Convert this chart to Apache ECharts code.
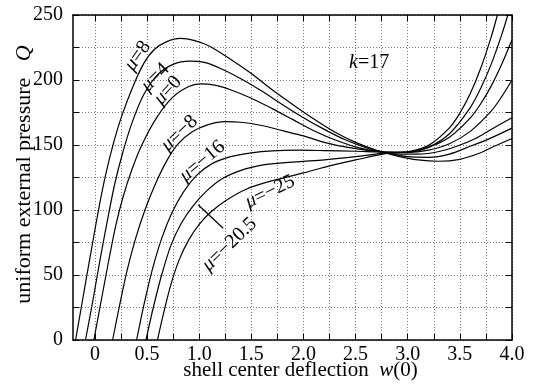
<!DOCTYPE html>
<html>
<head>
<meta charset="utf-8">
<script src="https://cdn.jsdelivr.net/npm/echarts@6/dist/echarts.min.js"></script>
<style>
html, body { margin: 0; padding: 0; background: #fff; }
#chart { width: 538px; height: 385px; }
</style>
</head>
<body>
<div id="chart"></div>
<script>
// tick positions
var xTicks = [0, 0.25, 0.5, 0.75, 1, 1.25, 1.5, 1.75, 2, 2.25, 2.5, 2.75, 3, 3.25, 3.5, 3.75, 4];
var xLabelVals = [0, 0.5, 1, 1.5, 2, 2.5, 3, 3.5, 4];

// curves [w(0), Q]
var mu8 = [[-0.185,0],[-0.12,30],[-0.05,62],[0.03,98],[0.1,126],[0.18,152],[0.26,173],[0.37,196],[0.47,213],[0.57,223.5],[0.69,229.5],[0.82,232],[0.95,230.5],[1.1,226],[1.3,216],[1.5,205],[1.7,192.5],[1.9,181],[2.1,170],[2.3,160],[2.5,152],[2.7,146],[2.9,141.5],[3.1,138.5],[3.3,137.5],[3.5,139],[3.7,144],[3.83,149],[4.0,155]];
var mu4 = [[-0.09,0],[-0.02,30],[0.05,62],[0.12,92],[0.19,120],[0.27,145],[0.36,168],[0.47,189],[0.6,204],[0.75,212],[0.91,214.5],[1.05,213.5],[1.2,209],[1.4,201],[1.6,191.5],[1.8,181],[2.0,171],[2.2,162],[2.4,154],[2.6,148],[2.8,144],[3.0,141],[3.2,140.5],[3.4,143],[3.6,149],[3.8,155.5],[4.0,163]];
var mu0 = [[-0.01,0],[0.06,30],[0.13,60],[0.2,88],[0.27,110],[0.35,130],[0.45,150],[0.6,172],[0.75,187],[0.9,195],[1.01,197],[1.15,196],[1.3,192.5],[1.5,186],[1.7,178],[1.9,169.5],[2.1,161],[2.3,154],[2.5,148.5],[2.7,145],[2.9,143],[3.1,143],[3.3,145],[3.47,149],[3.65,155],[3.8,162],[4.0,171]];
var muM8 = [[0.17,0],[0.24,28],[0.31,54],[0.39,78],[0.48,100],[0.58,120],[0.69,138],[0.8,151],[0.93,160],[1.08,165.5],[1.25,168],[1.4,167.5],[1.6,165],[1.8,161],[2.0,157],[2.2,152],[2.4,148.5],[2.6,146],[2.8,144.5],[3.0,144.3],[3.2,146.1],[3.4,151],[3.6,160.5],[3.8,176],[3.9,187],[4.0,200]];
var muM16 = [[0.4,0],[0.47,27],[0.55,54],[0.64,78],[0.74,98],[0.85,114],[0.98,127],[1.12,135.5],[1.3,141],[1.5,144],[1.7,145.5],[1.95,146],[2.2,145.7],[2.5,145.2],[2.8,144.6],[3.0,144.6],[3.2,148.2],[3.4,155.9],[3.6,170.8],[3.7,181.7],[3.8,195.3],[3.9,211.9],[4.0,231]];
var muM205 = [[0.49,0],[0.56,25],[0.64,50],[0.73,73],[0.83,90],[0.94,103],[1.07,114.5],[1.22,124],[1.4,130.5],[1.6,134.5],[1.8,136.3],[2.0,137.4],[2.2,138.5],[2.5,141],[2.8,144],[3.0,144.5],[3.2,148.4],[3.4,158.7],[3.6,178.8],[3.7,193.6],[3.8,212],[3.9,234.5],[3.96,250]];
var muM25 = [[0.6,0],[0.66,21],[0.73,43],[0.81,62],[0.9,77],[1.0,89],[1.12,99],[1.25,107],[1.45,116],[1.7,122.5],[2.0,128.5],[2.25,134],[2.5,138.5],[2.8,143.5],[3.0,144.7],[3.2,149.7],[3.4,163.2],[3.5,174.5],[3.6,189.6],[3.7,209],[3.8,233],[3.86,250]];

// leader line for mu=-20.5
var leader205 = [[0.99,104],[1.23,86]];

// curve labels: text, [w, Q], angle
var curveLabels = [
  ['{i|μ}=8', [0.41, 218.5], 55],
  ['{i|μ}=4', [0.58, 202], 45],
  ['{i|μ}=0', [0.70, 192], 48],
  ['{i|μ}=−8', [0.81, 159], 44],
  ['{i|μ}=−16', [1.03, 137.5], 40],
  ['{i|μ}=−25', [1.68, 114], 26],
  ['{i|μ}=−20.5', [1.29, 73.5], 44],
  ['{i|k}=17', [2.63, 213], 0]
];
var xName = 'shell center deflection  {i|w}(0)';
var yName = 'uniform external pressure   {i|Q}';

var FONT = "'Liberation Serif', 'Times New Roman', serif";
var FS = 20;
var chart = echarts.init(document.getElementById('chart'));

function curve(d) {
  return {
    type: 'line',
    data: d,
    showSymbol: false,
    smooth: 0.3,
    lineStyle: { color: '#000', width: 1.2 },
    silent: true,
    z: 3
  };
}

var tickStyle = { show: true, inside: true, length: 6, lineStyle: { color: '#000', width: 1 } };
var axisLineStyle = { show: true, onZero: false, lineStyle: { color: '#000', width: 1.5 } };
var gridLineStyle = { show: true, lineStyle: { color: '#777', type: [1, 2], width: 1 } };

var option = {
  animation: false,
  grid: { left: 73, right: 26, top: 15, bottom: 45, containLabel: false, outerBoundsMode: 'none' },
  xAxis: [{
    type: 'value', min: -0.21, max: 4.0,
    axisLine: axisLineStyle,
    axisTick: Object.assign({ customValues: xTicks }, tickStyle),
    splitLine: gridLineStyle,
    axisLabel: {
      customValues: xLabelVals, margin: 5,
      color: '#000', fontFamily: FONT, fontSize: FS,
      formatter: function (v) { return v === 0 ? '0' : v.toFixed(1); }
    }
  }, {
    type: 'value', min: -0.21, max: 4.0, position: 'top',
    axisLine: axisLineStyle,
    axisTick: Object.assign({ customValues: xTicks }, tickStyle),
    splitLine: { show: false },
    axisLabel: { show: false }
  }],
  yAxis: [{
    type: 'value', min: 0, max: 250, interval: 25,
    axisLine: axisLineStyle,
    axisTick: tickStyle,
    splitLine: gridLineStyle,
    axisLabel: {
      margin: 10, color: '#000', fontFamily: FONT, fontSize: FS,
      formatter: function (v) { return v % 50 === 0 ? String(v) : ''; }
    }
  }, {
    type: 'value', min: 0, max: 250, interval: 25, position: 'right',
    axisLine: axisLineStyle,
    axisTick: tickStyle,
    splitLine: { show: false },
    axisLabel: { show: false }
  }],
  series: [
    curve(mu8), curve(mu4), curve(mu0), curve(muM8),
    curve(muM16), curve(muM205), curve(muM25),
    {
      type: 'line', data: leader205, showSymbol: false, silent: true,
      lineStyle: { color: '#000', width: 1.2 }
    }
  ]
};
chart.setOption(option);

function txt(text, x, y, deg, size) {
  return {
    type: 'text', x: x, y: y, rotation: deg * Math.PI / 180, z: 10,
    style: {
      text: text, fill: '#000', font: size + 'px ' + FONT,
      align: 'center', verticalAlign: 'middle',
      rich: { i: { fontStyle: 'italic', fontFamily: FONT, fontSize: size } }
    }
  };
}

var gfx = curveLabels.map(function (c) {
  var p = chart.convertToPixel({ xAxisIndex: 0, yAxisIndex: 0 }, c[1]);
  return txt(c[0], p[0], p[1], c[2], FS);
});
// axis titles placed relative to the plot box
var lo = chart.convertToPixel({ xAxisIndex: 0, yAxisIndex: 0 }, [-0.21, 0]);
var hi = chart.convertToPixel({ xAxisIndex: 0, yAxisIndex: 0 }, [4.0, 250]);
gfx.push(txt(xName, (lo[0] + hi[0]) / 2 + 8, lo[1] + 30, 0, 21));
gfx.push(txt(yName, lo[0] - 49, (lo[1] + hi[1]) / 2 - 3, 90, 22));
chart.setOption({ graphic: gfx });
</script>
</body>
</html>
